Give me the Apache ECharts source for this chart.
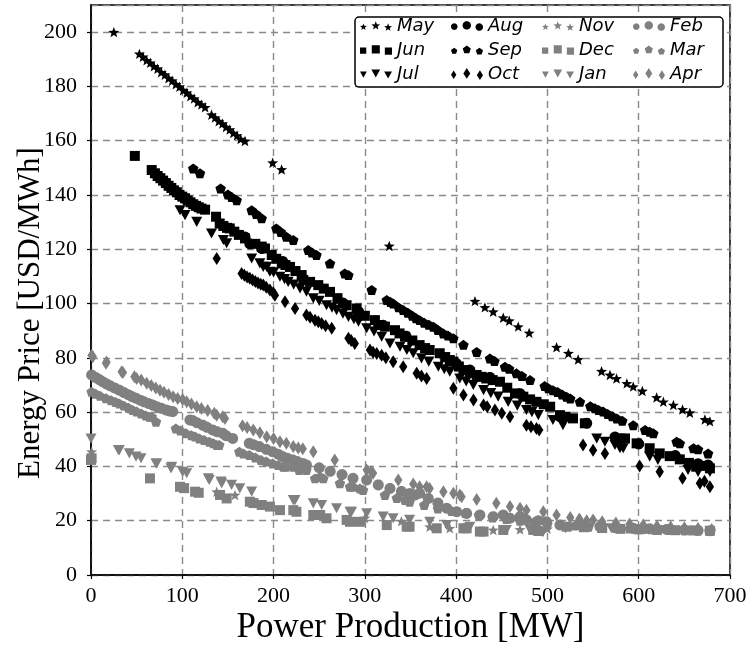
<!DOCTYPE html>
<html><head><meta charset="utf-8">
<script src="https://cdn.jsdelivr.net/npm/echarts@6/dist/echarts.min.js"></script>
<style>html,body{margin:0;padding:0;background:#fff}#c{width:746px;height:646px}</style>
</head><body><div id="c"></div>
<script>
// ---------------- DATA (Power Production [MW], Energy Price [USD/MWh]) ----------------
const xAxisRange = [0, 700, 100];
const yAxisRange = [0, 210, 20];

const may = [[25,200],[53,192],[57,190.9],[61,189.6],[65,188.7],[69,187.4],[73,186.5],[77,185.2],[81,184.3],[85,183],[89,182.1],[93,180.8],[97,179.9],[101,178.6],[105,177.7],[109,176.4],[113,175.5],[117,174.2],[121,173.3],[125,172.3],[132,169.6],[136,168.5],[140,167.2],[144,166.3],[148,165],[152,164.1],[156,162.8],[160,161.9],[164,160.6],[168.7,159.9],
  [199,151.9],[208.8,149.4],[326.7,121.2],[420.6,100.9],[431.5,98.6],[440.6,97],[451.6,94.8],[458.2,93.7],[468,91.5],[480,89.2],[510,83.9],[523,81.7],[533.7,79.4],[559.3,75.1],[568.5,73.7],[575.7,72.4],[587,70.6],[594,69.4],[604,67.8],[619.6,65.4],[627,63.8],[638,62.6],[648,61],[656,59.8],[672.5,57.3],[678,56.6]];

const jun = [[48,154.4],[66.5,149.2],[70,148],[73,147],[76,146.2],[79,145.3],[82,144.4],[85,143.4],[88,142.6],[91,141.7],[94,141],[97,140],[100,139.4],[103,138.8],[106,138],[109,137.3],[112,136.6],[115,136],[118,135.5],[121,135],[125,134.6],[137,132],[141,129.5],[145,128.6],[149,127.9],[152,127.7],[157,126.5],[162,125.3],[168.7,124],[180,122],[187,121],[190.6,120.3],[198,117.9],[203,116.5],[209,114.8],[213,114.2],[218,113.5],[224,112],[230.8,110.5],[232.6,108.7],[240,108],[249,106.8],[255,105.5],[261.8,104.3],[270,102],[280,99.4],[291,98.2],[292.8,96.4],[300,95.5],[311,93.9],[314.7,92.1],[322,91.5],[333,90.2],[338,89],[344,87.8],[352,86.4],[360,84.7],[366,83.6],[371,82.9],[382,81.7],[388,80.3],[393,79.2],[397,78.6],[403,76.8],[408,75.5],[415,74.5],[422.5,73.7],[428,73],[433,72.4],[440,71.8],[448,71.2],[456,69],[464.5,66.9],[473.6,65.7],[481,64.7],[488,63.8],[496,62.9],[503,62],[513.7,58.9],[520,58.3],[528,57.7],[541,55.9],[580,50.3],[585,50.3],[597.7,48.5],[612,46.7],[623,44.8],[634,43.8],[645,42.6],[655,41.3],[663,39.9],[670,40.2],[678,39.3]];

const jul = [[97.5,134.4],[103,132.6],[115.8,130.1],[132,125.8],[145,123.4],[148.6,122.2],[176,116.6],[185,114.8],[188.7,113.5],[192.5,113.5],[196,111.7],[200,111.5],[207,109.9],[212,109],[216,108],[222,107],[229,105.6],[236,104.4],[243.5,101.9],[250,101],[258,99.4],[264,98.5],[269,97.6],[276,96.3],[282,95.1],[288,94.2],[293,93.3],[302,90.9],[310,89.7],[318.4,87.8],[327.5,85.3],[338.5,84.1],[346,82.9],[353,81.7],[362,79.8],[370,78.6],[380.5,76.7],[387,75.8],[393,74.9],[404,72.4],[411,71.3],[418.8,70],[430,68.1],[438,67],[446,65.7],[457,63.8],[467,62.4],[477,60.8],[483,60],[490,58.9],[506,57.1],[517,55.2],[554,50.3],[563,49.1],[574,47.9],[579.5,46.7],[583,46.7],[612,43.6],[621,42.4],[654,38.7],[665,38],[678,38]];

const aug = [[168.7,124.5],[174,122],[187,120.3],[210,115.5],[276,100.2],[293,97],[320,92],[345,88],[400,78],[415,75.5],[437,72.8],[470,66.8],[514,58.3],[543,55.9],[574,50.8],[600,48.3],[640,44],[665,41],[676,40.5]];

const sep = [[112,149.8],[119.4,148],[142,142.4],[150,140.2],[154,139.3],[159.6,138.1],[176,134.4],[181,133],[187,131.4],[203,127.7],[208,126.4],[214,124.6],[221.6,123.4],[238,119.7],[242,118.8],[247,117.9],[261.8,114.8],[278,111.1],[282,110.5],[307.5,105],[324,101.3],[328,100.6],[331,100],[337,98.6],[342,97.6],[347,96.6],[352,95.5],[356,94.6],[360,93.9],[365,92.9],[370,92.2],[375,91.5],[380,90.3],[386,89],[391,88.2],[397,87.2],[408,84.8],[422.5,82.2],[437,79.8],[442,78.8],[453.5,76.7],[458,76],[466,74.3],[472,73.3],[481,71.8],[497,69.6],[501,68.8],[506,68.1],[511,67.4],[516,66.5],[520.8,65.7],[525,65],[535.6,63.8],[547,62.2],[552,61.4],[556,60.8],[561,60.2],[566,59.3],[571,58.5],[576,57.7],[582,56.8],[594,55.2],[607,53.4],[612,52.8],[616,52.2],[641.5,49.1],[645,48.5],[660,46.7],[665,46.3],[676,44.8]];

const oct = [[137.7,116.6],[165,111.1],[168,110.4],[171,109.8],[174,109.3],[177,108.7],[180,108.1],[183,107.6],[186,107.1],[188.7,106.8],[192,106],[196,105],[199.7,104],[201.5,103.1],[212.5,100.7],[223.5,98.2],[236,95.8],[240,95],[245.4,93.9],[249,93.3],[252.7,92.7],[257,91.8],[263.7,90.9],[282,87.2],[285,86.4],[289,85.3],[305.6,82.9],[309,82.1],[313,81.6],[318.4,81],[323,80],[331,78.6],[342,76.7],[356.8,74.3],[362,73.3],[367.7,72.4],[397,68.8],[408,66.3],[419,64.5],[430,62.6],[434,62],[442.5,60.8],[450,59.6],[459,58.3],[477,55.2],[482,54.6],[488,54],[491,53.4],[539,47.9],[550,46],[563,44.8],[601,40.2],[623,38],[648,35.6],[667,33.8],[672,34.5],[678,32.5]];

const nov = [[0.7,45.4],[137.7,30.7],[157.7,29.5],[300,21],[340,19.8],[371,17.8],[393,17.2],[440.6,16.6],[470,16.8],[500,17],[530,18.3],[560,17.8],[590,17.2],[620,16.8],[650,16.5],[678,16.4]];

const dec = [[0,42.4],[0.7,43],[64.6,35.6],[97.5,32.5],[102,32],[114,30.7],[118,30.3],[141.3,29.5],[148.6,28.2],[174,27],[178,26.5],[187,25.8],[196,25.2],[207,23.9],[221.6,23.9],[225,23.3],[243.5,22.1],[251,22.1],[258,20.9],[280,20.3],[283.7,19.6],[294.6,19.6],[324,18.4],[345.8,17.8],[349,17.8],[378.7,17.2],[408,17.2],[411.5,17.2],[426,16],[430,16],[451.6,16.6],[484.5,16.6],[490,16.2],[521,17.8],[540,17.6],[560,17.3],[580,17],[600,16.8],[620,16.6],[640,16.5],[660,16.4],[678,16.3]];

const jan = [[0,50.3],[30,46],[31,46],[42,44.8],[49.3,43.6],[54.8,43],[71.2,41.1],[72,41.1],[87.6,39.3],[88.4,39.9],[100.4,38],[104.8,37.5],[128.5,35.6],[129.6,35],[142.4,34.4],[143.2,33.8],[154,33.2],[163,31.9],[176,30.7],[221.6,27.6],[223.5,27.6],[243.5,26.4],[252.7,25.8],[269,24.6],[283.7,23.3],[285.5,23.3],[302,22.7],[320,21.5],[331,20.9],[349,20.3],[371,19.6],[389.6,18.4],[415,17.8],[455,16.6],[481,16.6],[495,15.8],[520,17.2],[545,17.5],[570,17.2],[600,16.8],[630,16.5],[655,16.3],[678,16.2]];

const feb = [[0.7,73.7],[5,72.8],[9,72],[12.8,71.2],[17,70.4],[21,69.7],[26,68.9],[31,68.1],[36,67.2],[41,66.4],[45,65.7],[49.3,65.1],[54,64.4],[58,63.8],[63,63.2],[67.6,62.6],[72,62],[77,61.4],[82.2,60.8],[86,60.4],[89.5,60.2],[108.4,57.1],[111.4,56.9],[116,56.1],[122.4,55.2],[127,54.4],[133.3,53.4],[138,52.8],[144.3,52.2],[148,51.3],[155.2,50.3],[173.4,48.5],[178,48],[184.3,47.3],[192,46.3],[199,45.4],[205,44.5],[210,43.6],[215,43],[221,42.4],[226,41.8],[232,41.1],[236,40.5],[250,39.5],[262,38.2],[275,37],[287,35.6],[302,35],[314.7,33.2],[327.5,31.9],[340,30.8],[349,30],[355,29.5],[360,30.1],[369.5,28.2],[380,26.5],[389.6,24.6],[400.6,23.3],[411.5,22.7],[426,22.1],[440.6,21.5],[451.6,22.1],[459,20.9],[470,21.5],[477,20.3],[490,20],[499,19.6],[513.7,18.4],[535.6,18.4],[557.5,17.8],[575,17.5],[594,17.2],[612,17],[630.6,16.8],[650,16.6],[665,16.4],[678,16.3]];

const mar = [[0.7,67.5],[5,66.8],[10,66],[16.4,65.1],[22,64.4],[27,63.7],[31,63.2],[36,62.4],[41,61.6],[45.7,60.8],[50,60.2],[55,59.5],[60,58.8],[63.9,58.3],[66.5,58.3],[71.2,56.5],[93,54],[98,53.2],[104,52.2],[110,51.5],[114,51],[118.7,50.3],[124,49.7],[129.6,49.1],[134,48.5],[137.7,47.9],[140.5,47.9],[162.5,45.4],[166.8,44.8],[173.4,44.2],[180,43.3],[186.2,42.4],[192,41.8],[199,41.1],[205,40.5],[210.6,39.9],[213.6,39.9],[221.6,39.9],[228,38.7],[236,38.7],[245.4,35.6],[251,36.2],[254.5,35.6],[272.7,33.8],[283.7,32.5],[287,32.5],[294.6,31.9],[298,31.3],[322,29.5],[335,28.4],[344,27.6],[349,27],[365,25.8],[380,24.5],[395,23.6],[410,22.8],[425,22],[440,21.2],[455,20.6],[470,20],[485,19.4],[500,18.8],[515,18.5],[530,18.2],[545,17.8],[560,17.5],[575,17.3],[590,17.1],[605,16.9],[620,16.7],[635,16.6],[650,16.5],[665,16.4],[678,16.2]];

const apr = [[0.7,81],[2,80.4],[16.4,78],[17,78.5],[33.6,74.9],[35,74.6],[47.5,73],[50,72.4],[55,71.8],[61,70.6],[66,69.8],[71,68.9],[75.6,68.1],[80,67.3],[85,66.5],[90,65.7],[95,65],[100.4,64.7],[104.8,63.8],[110,63],[115.8,62],[121,61.3],[127.8,60.6],[135,59.6],[137.7,58.9],[144.3,58.3],[146.8,57.7],[166,55],[171,54.3],[177.8,53.4],[185,52.4],[192.5,50.9],[200,50.3],[207,49.1],[214,48.5],[221.6,47.3],[227,46.8],[232,46.5],[243.5,45.4],[267,42.4],[302,38.7],[307,38],[309,37.5],[336.6,35],[353,33.5],[360,32.5],[367.7,32.5],[371,31.9],[386,30.7],[397,30.1],[404,29.5],[406,28.8],[422.5,27.8],[444,26.4],[459,25.2],[470,24.6],[477,23.9],[495.5,23.3],[510,22.1],[525,21.2],[535,20.6],[543,20],[550,20.3],[560,19.6],[575,19.2],[590,18.8],[605,18.4],[620,18],[635,17.7],[650,17.4],[665,17.1],[680,16.8]];

const monthNames = ['May','Jun','Jul','Aug','Sep','Oct','Nov','Dec','Jan','Feb','Mar','Apr'];
const monthData  = [may, jun, jul, aug, sep, oct, nov, dec, jan, feb, mar, apr];

// ---------------- STYLE ----------------
const BLACK = '#000000', GRAY = '#808080';
function P(pts){ return 'M' + pts.map(p => p[0].toFixed(2) + ' ' + p[1].toFixed(2)).join(' L') + ' Z'; }
const shapes = {
  star: (cx,cy,s) => { const R=s/2, r=R*0.42, a=[]; for(let i=0;i<10;i++){const t=(-90+36*i)*Math.PI/180, q=i%2?r:R; a.push([cx+q*Math.cos(t), cy+q*Math.sin(t)]);} return P(a); },
  pent: (cx,cy,s) => { const R=s/2, a=[]; for(let i=0;i<5;i++){const t=(-90+72*i)*Math.PI/180; a.push([cx+R*Math.cos(t), cy+R*Math.sin(t)]);} return P(a); },
  circ: (cx,cy,s) => { const R=s/2, a=[]; for(let i=0;i<24;i++){const t=i*15*Math.PI/180; a.push([cx+R*Math.cos(t), cy+R*Math.sin(t)]);} return P(a); },
  sq:   (cx,cy,s) => P([[cx-s/2,cy-s/2],[cx+s/2,cy-s/2],[cx+s/2,cy+s/2],[cx-s/2,cy+s/2]]),
  tri:  (cx,cy,s) => P([[cx-s/2,cy-s*0.42],[cx+s/2,cy-s*0.42],[cx,cy+s*0.5]]),
  dia:  (cx,cy,s) => P([[cx,cy-s/2],[cx+s*0.32,cy],[cx,cy+s/2],[cx-s*0.32,cy]])
};
const kindOf  = ['star','sq','tri','circ','pent','dia','star','sq','tri','circ','pent','dia'];
const sizeOf  = {star:11, sq:10, tri:11, circ:11, pent:10.5, dia:13};
const legendScale = {star:1, sq:0.85, tri:0.95, circ:0.9, pent:0.9, dia:1.1};
function legendIcon(kind){
  const f = shapes[kind], k = legendScale[kind];
  return 'path://' + [f(4,7.2,7*k), f(16,6,9*k), f(28,7.6,8*k)].join(' ');
}

const series = monthNames.map((name, i) => ({
  name, type: 'scatter', data: monthData[i],
  symbol: 'path://' + shapes[kindOf[i]](0, 0, 10),
  symbolKeepAspect: true,
  symbolSize: sizeOf[kindOf[i]],
  itemStyle: { color: i < 6 ? BLACK : GRAY, opacity: 1 },
  emphasis: { disabled: true },
  z: i < 6 ? 3 : 2
}));

const legendOrder = ['May','Aug','Nov','Feb','Jun','Sep','Dec','Mar','Jul','Oct','Jan','Apr'];

const chart = echarts.init(document.getElementById('c'), null, { renderer: 'canvas' });
chart.setOption({
  backgroundColor: '#fff',
  animation: false,
  grid: { left: 91, right: 16, top: 5, bottom: 71, show: true, borderColor: '#000', borderWidth: 1.5,
          containLabel: false, outerBoundsMode: 'none' },
  legend: {
    left: 355, top: 17, width: 362,
    orient: 'horizontal',
    padding: [0, 5, 4, 5],
    itemGap: 6, itemWidth: 32, itemHeight: 12,
    backgroundColor: '#fff', borderColor: '#000', borderWidth: 1.5, borderRadius: 4,
    selectedMode: false,
    textStyle: { fontFamily: 'DejaVu Sans', fontStyle: 'italic', fontSize: 18, color: '#000', width: 48, lineHeight: 18 },
    data: legendOrder.map(n => ({ name: n, icon: legendIcon(kindOf[monthNames.indexOf(n)]) }))
  },
  xAxis: {
    type: 'value', min: xAxisRange[0], max: xAxisRange[1], interval: xAxisRange[2],
    name: 'Power Production [MW]', nameLocation: 'middle', nameGap: 35, nameMoveOverlap: false,
    nameTextStyle: { fontFamily: 'Liberation Serif', fontSize: 35, color: '#000' },
    axisLine: { show: true, lineStyle: { color: '#000', width: 1.5 } },
    axisTick: { show: true, inside: false, length: 4, lineStyle: { color: '#000', width: 1.2 } },
    axisLabel: { fontFamily: 'Liberation Serif', fontSize: 22, color: '#000', margin: 10 },
    splitLine: { show: true, lineStyle: { color: '#8a8a8a', width: 1.4, type: [7, 5] } }
  },
  yAxis: {
    type: 'value', min: yAxisRange[0], max: yAxisRange[1], interval: yAxisRange[2],
    name: 'Energy Price [USD/MWh]', nameLocation: 'middle', nameGap: 45, nameMoveOverlap: false,
    nameTextStyle: { fontFamily: 'Liberation Serif', fontSize: 31, color: '#000', padding: [0, 46, 0, 0] },
    axisLine: { show: true, lineStyle: { color: '#000', width: 1.5 } },
    axisTick: { show: true, inside: false, length: 4, lineStyle: { color: '#000', width: 1.2 } },
    axisLabel: { fontFamily: 'Liberation Serif', fontSize: 22, color: '#000', margin: 14, showMaxLabel: false,
      formatter: v => (v % 20 === 0 ? String(v) : '') },
    splitLine: { show: true, lineStyle: { color: '#8a8a8a', width: 1.4, type: [7, 5] } }
  },
  series
});
</script></body></html>
